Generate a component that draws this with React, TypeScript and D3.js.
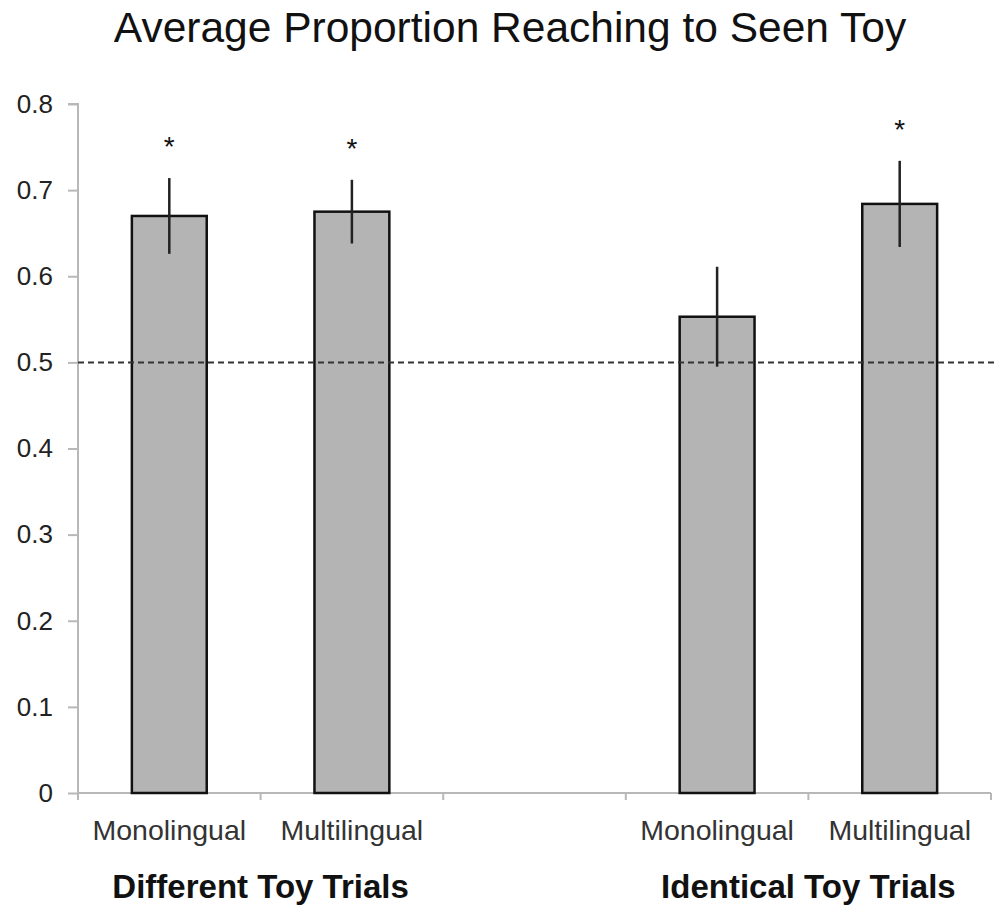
import { useRef, useEffect } from "react";
import * as d3 from "d3";

const slots = ["diffMono", "diffMulti", "gap", "identMono", "identMulti"];
const barSlots = ["diffMono", "diffMulti", "identMono", "identMulti"];
const barLabels = ["Monolingual", "Multilingual", "Monolingual", "Multilingual"];
const means = [0.67, 0.675, 0.553, 0.684];
const errors = [0.044, 0.037, 0.058, 0.05];
const significant = [true, true, false, true];
const groupLabels = ["Different Toy Trials", "Identical Toy Trials"];
const groupSlots = [["diffMono", "diffMulti"], ["identMono", "identMulti"]];
const yTicks = [0, 0.1, 0.2, 0.3, 0.4, 0.5, 0.6, 0.7, 0.8];
const chanceLevel = 0.5;

export default function App() {
  const ref = useRef<SVGSVGElement | null>(null);

  useEffect(() => {
    if (!ref.current) return;
    document.body.style.margin = "0";

    const width = 994;
    const height = 910;
    const left = 78;
    const right = 991;
    const top = 104;
    const bottom = 793;

    const svg = d3.select(ref.current);
    svg.selectAll("*").remove();
    svg.attr("width", width).attr("height", height);

    const font = "Arial, 'Liberation Sans', Helvetica, sans-serif";

    const x = d3.scaleBand<string>().domain(slots).range([left, right]).padding(0);
    const y = d3.scaleLinear().domain([0, 0.8]).range([bottom, top]);
    const bw = x.bandwidth() * 0.41;
    const cx = (i: number) => (x(barSlots[i]) as number) + x.bandwidth() / 2;

    // title
    svg
      .append("text")
      .attr("x", 510)
      .attr("y", 42)
      .attr("text-anchor", "middle")
      .attr("font-family", font)
      .attr("font-size", 42.5)
      .attr("fill", "#111")
      .text("Average Proportion Reaching to Seen Toy");

    // y axis
    const yAxis = svg
      .append("g")
      .attr("transform", `translate(${left},0)`)
      .call(
        d3
          .axisLeft(y)
          .tickValues(yTicks)
          .tickSize(10)
          .tickPadding(15)
          .tickFormat((d) => (d === 0 ? "0" : d3.format(".1f")(d as number)))
      );
    yAxis.select(".domain").attr("stroke", "#b8b8b8").attr("stroke-width", 2).attr("d", `M-10,${top}H0V${bottom}`);
    yAxis.selectAll(".tick line").attr("stroke", "#b8b8b8").attr("stroke-width", 2);
    yAxis
      .selectAll(".tick text")
      .attr("font-family", font)
      .attr("font-size", 26)
      .attr("fill", "#222");

    // x axis
    const xAxis = svg.append("g").attr("transform", `translate(0,${bottom})`);
    xAxis
      .append("line")
      .attr("x1", left)
      .attr("x2", right)
      .attr("stroke", "#b8b8b8")
      .attr("stroke-width", 2);
    const bounds = slots.map((s) => x(s) as number).concat([right]);
    xAxis
      .selectAll("line.tk")
      .data(bounds)
      .join("line")
      .attr("class", "tk")
      .attr("x1", (d) => d)
      .attr("x2", (d) => d)
      .attr("y1", 0)
      .attr("y2", 7)
      .attr("stroke", "#b8b8b8")
      .attr("stroke-width", 2);

    // bars
    svg
      .append("g")
      .selectAll("rect")
      .data(means)
      .join("rect")
      .attr("x", (_, i) => cx(i) - bw / 2)
      .attr("y", (d) => y(d))
      .attr("width", bw)
      .attr("height", (d) => y(0) - y(d))
      .attr("fill", "#b4b4b4")
      .attr("stroke", "#111")
      .attr("stroke-width", 2.5);

    // chance line
    svg
      .append("line")
      .attr("x1", left)
      .attr("x2", width)
      .attr("y1", y(chanceLevel))
      .attr("y2", y(chanceLevel))
      .attr("stroke", "#333")
      .attr("stroke-width", 2)
      .attr("stroke-dasharray", "6,4");

    // error bars
    svg
      .append("g")
      .selectAll("line")
      .data(means)
      .join("line")
      .attr("x1", (_, i) => cx(i))
      .attr("x2", (_, i) => cx(i))
      .attr("y1", (d, i) => y(d + errors[i]))
      .attr("y2", (d, i) => y(d - errors[i]))
      .attr("stroke", "#222")
      .attr("stroke-width", 2.5);

    // significance stars
    const starIdx = means.map((_, i) => i).filter((i) => significant[i]);
    svg
      .append("g")
      .selectAll("text")
      .data(starIdx)
      .join("text")
      .attr("x", (i) => cx(i))
      .attr("y", (i) => y(means[i] + errors[i]) - 22)
      .attr("text-anchor", "middle")
      .attr("font-family", font)
      .attr("font-size", 28)
      .attr("fill", "#111")
      .text("*");

    // category labels
    svg
      .append("g")
      .selectAll("text")
      .data(barLabels)
      .join("text")
      .attr("x", (_, i) => cx(i))
      .attr("y", 840)
      .attr("text-anchor", "middle")
      .attr("font-family", font)
      .attr("font-size", 28.5)
      .attr("fill", "#333")
      .text((d) => d);

    // group labels
    svg
      .append("g")
      .selectAll("text")
      .data(groupLabels)
      .join("text")
      .attr("x", (_, i) => {
        const [a, b] = groupSlots[i];
        return ((x(a) as number) + (x(b) as number) + x.bandwidth()) / 2;
      })
      .attr("y", 898)
      .attr("text-anchor", "middle")
      .attr("font-family", font)
      .attr("font-weight", "bold")
      .attr("font-size", 33)
      .attr("fill", "#111")
      .text((d) => d);
  }, []);

  return <svg ref={ref} style={{ display: "block" }} />;
}
